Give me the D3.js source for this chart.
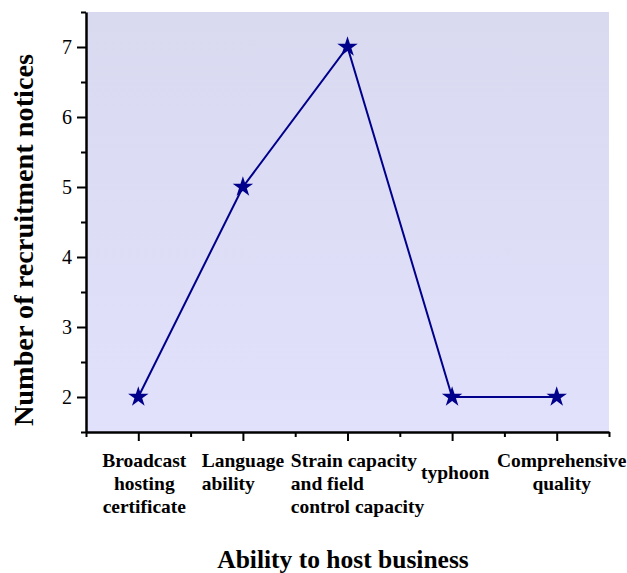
<!DOCTYPE html>
<html>
<head>
<meta charset="utf-8">
<script src="https://d3js.org/d3.v7.min.js"></script>
<style>
body { margin: 0; background: #fff; }
text { font-family: "Liberation Serif", "Times New Roman", serif; }
</style>
</head>
<body>
<div id="chart"></div>
<script>
// data
var categories = ["Broadcast\nhosting\ncertificate", "Language\nability", "Strain capacity\nand field\ncontrol capacity", "typhoon", "Comprehensive\nquality"];
var notices = [2, 5, 7, 2, 2];
var yTicks = [2, 3, 4, 5, 6, 7];

// label layout (how each block is aligned and nudged)
var labelAlign = ["middle", "start", "start", "middle", "middle"];
var labelNudge = [6, 0, 10, 3, 5];

var width = 627, height = 573;
var margin = {top: 12, right: 18, bottom: 141, left: 86};
var w = width - margin.left - margin.right;
var h = height - margin.top - margin.bottom;

var svg = d3.select("#chart").append("svg")
  .attr("width", width)
  .attr("height", height);

// background gradient of plot area
var grad = svg.append("defs").append("linearGradient")
  .attr("id", "bg")
  .attr("x1", 0).attr("y1", 0).attr("x2", 0).attr("y2", 1);
grad.append("stop").attr("offset", "0%").attr("stop-color", "#d9d9f0");
grad.append("stop").attr("offset", "100%").attr("stop-color", "#e1e1fc");

var g = svg.append("g")
  .attr("transform", "translate(" + margin.left + "," + margin.top + ")");

g.append("rect")
  .attr("width", w)
  .attr("height", h)
  .style("fill", "url(#bg)");

var x = d3.scaleLinear().domain([0.5, categories.length + 0.5]).range([0, w]);
var y = d3.scaleLinear().domain([1.5, 7.5]).range([h, 0]);

// minor ticks first
var xMinor = d3.range(0.5, categories.length + 1, 1);
g.append("g")
  .attr("transform", "translate(0," + h + ")")
  .call(d3.axisBottom(x).tickValues(xMinor).tickSize(5).tickFormat(""))
  .call(function(a) { a.select(".domain").remove(); a.selectAll("line").style("stroke-width", 2); });

var yMinor = d3.range(1.5, 8, 1);
g.append("g")
  .call(d3.axisLeft(y).tickValues(yMinor).tickSize(5).tickFormat(""))
  .call(function(a) { a.select(".domain").remove(); a.selectAll("line").style("stroke-width", 2); });

// major ticks
var xAxis = g.append("g")
  .attr("transform", "translate(0," + h + ")")
  .call(d3.axisBottom(x).tickValues(d3.range(1, categories.length + 1)).tickSize(9).tickSizeOuter(0).tickFormat(""));
xAxis.select(".domain").style("stroke-width", 2.5);
xAxis.selectAll("line").style("stroke-width", 2);

var yAxis = g.append("g")
  .call(d3.axisLeft(y).tickValues(yTicks).tickFormat(d3.format("d")).tickSize(9).tickSizeOuter(0).tickPadding(5));
yAxis.attr("font-family", "'Liberation Serif', serif").attr("font-size", 20);
yAxis.select(".domain").style("stroke-width", 2.5);
yAxis.selectAll("line").style("stroke-width", 2);
yAxis.selectAll("text").attr("dy", "0.34em");

// category labels
var lineH = 23;
var labels = g.append("g").attr("class", "cat-labels");
categories.forEach(function(c, i) {
  var lines = c.split("\n");
  var t = labels.append("text")
    .attr("y", h + 35 + (lines.length === 1 ? lineH / 2 : 0))
    .style("font-size", "19.5px")
    .style("font-weight", "bold")
    .attr("text-anchor", labelAlign[i]);
  lines.forEach(function(l, j) {
    t.append("tspan").attr("dy", j === 0 ? 0 : lineH).text(l);
  });
  var cx = x(i + 1) + labelNudge[i];
  if (labelAlign[i] === "start") {
    var bw = d3.max(t.selectAll("tspan").nodes(), function(n) { return n.getComputedTextLength(); });
    t.selectAll("tspan").attr("x", cx - bw / 2);
  } else {
    t.selectAll("tspan").attr("x", cx);
  }
});

// line
var line = d3.line()
  .x(function(d, i) { return x(i + 1); })
  .y(function(d) { return y(d); });

g.append("path")
  .datum(notices)
  .attr("d", line)
  .style("fill", "none")
  .style("stroke", "#00008b")
  .style("stroke-width", 2);

g.selectAll(".star")
  .data(notices)
  .enter().append("path")
  .attr("class", "star")
  .attr("d", d3.symbol().type(d3.symbolStar).size(130))
  .attr("transform", function(d, i) { return "translate(" + x(i + 1) + "," + y(d) + ")"; })
  .style("fill", "#00008b");

// axis titles
svg.append("text")
  .attr("x", 343)
  .attr("y", 568)
  .attr("text-anchor", "middle")
  .style("font-size", "25.5px")
  .style("font-weight", "bold")
  .text("Ability to host business");

svg.append("text")
  .attr("transform", "translate(33," + 240 + ") rotate(-90)")
  .attr("text-anchor", "middle")
  .style("font-size", "28.3px")
  .style("font-weight", "bold")
  .text("Number of recruitment notices");
</script>
</body>
</html>
